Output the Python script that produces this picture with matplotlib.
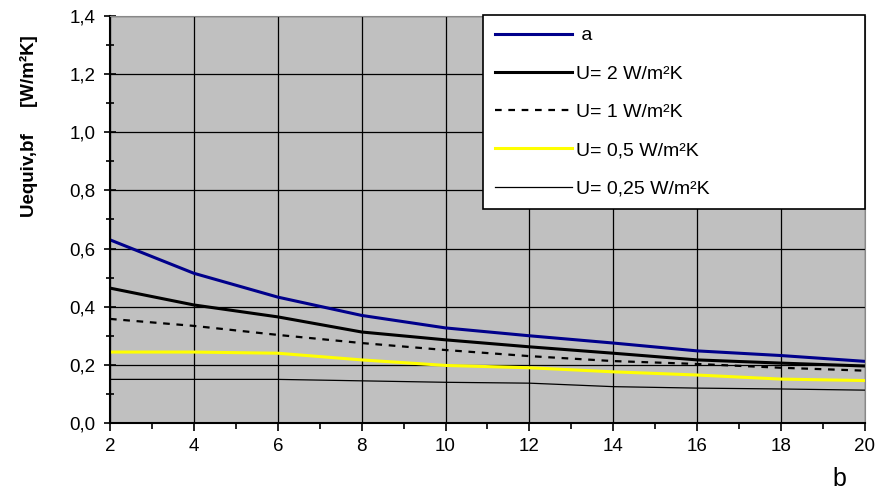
import numpy as np
import matplotlib.pyplot as plt
from matplotlib.ticker import MultipleLocator, FuncFormatter

# values
b = [2, 4, 6, 8, 10, 12, 14, 16, 18, 20]
u_a = [0.63, 0.515, 0.433, 0.37, 0.327, 0.30, 0.275, 0.248, 0.232, 0.212]
u_2 = [0.464, 0.406, 0.365, 0.313, 0.286, 0.262, 0.24, 0.217, 0.206, 0.196]
u_1 = [0.358, 0.334, 0.303, 0.275, 0.251, 0.23, 0.213, 0.203, 0.19, 0.18]
u_05 = [0.244, 0.244, 0.24, 0.217, 0.198, 0.19, 0.176, 0.165, 0.151, 0.146]
u_025 = [0.15, 0.15, 0.15, 0.145, 0.14, 0.137, 0.125, 0.12, 0.117, 0.113]

plt.rcParams['font.family'] = ['Liberation Sans', 'DejaVu Sans']

fig = plt.figure(figsize=(8.77, 5.01), dpi=100)
ax = fig.add_axes([0.1254, 0.1557, 0.8609, 0.8124])
ax.set_facecolor('#c0c0c0')

ax.plot(b, u_a, color='#00008b', linewidth=2.2, label=' a')
ax.plot(b, u_2, color='black', linewidth=2.2, label='U= 2 W/m²K')
ax.plot(b, u_1, color='black', linewidth=1.6, linestyle=(0, (3, 3)), label='U= 1 W/m²K')
ax.plot(b, u_05, color='#ffff00', linewidth=2.2, label='U= 0,5 W/m²K')
ax.plot(b, u_025, color='black', linewidth=0.9, label='U= 0,25 W/m²K')

ax.set_xlim(2, 20)
ax.set_ylim(0, 1.4)
ax.xaxis.set_major_locator(MultipleLocator(2))
ax.xaxis.set_minor_locator(MultipleLocator(1))
ax.yaxis.set_major_locator(MultipleLocator(0.2))
ax.yaxis.set_minor_locator(MultipleLocator(0.1))
ax.yaxis.set_major_formatter(FuncFormatter(lambda v, p: f'{v:.1f}'.replace('.', ',')))

ax.grid(True, which='major', color='black', linewidth=0.9)
ax.set_axisbelow(True)
ax.tick_params(axis='x', which='both', direction='out', labelsize=13.5, pad=5)
ax.tick_params(axis='x', which='major', length=6, width=1.2)
ax.tick_params(axis='x', which='minor', length=4, width=1.2)
ax.tick_params(axis='y', which='both', direction='inout', labelsize=13.5, pad=6)
ax.tick_params(axis='y', which='major', length=9, width=1.2)
ax.tick_params(axis='y', which='minor', length=6, width=1.2)

for side in ['left', 'bottom']:
    ax.spines[side].set_linewidth(1.5)
    ax.spines[side].set_color('black')
for side in ['top', 'right']:
    ax.spines[side].set_color('#888888')
    ax.spines[side].set_linewidth(0.8)

ax.set_ylabel('Uequiv,bf     [W/m²K]', fontsize=13.5, fontweight='bold')
ax.yaxis.set_label_coords(-0.095, 0.73)
fig.text(0.957, 0.03, 'b', fontsize=18, ha='center')

leg = ax.legend(loc='upper left', bbox_to_anchor=(0.494, 1.002, 0.506, 0), mode='expand',
                fontsize=14, frameon=True, fancybox=False, framealpha=1, edgecolor='black',
                handlelength=4.0, handletextpad=0.2, labelspacing=1.06,
                borderpad=0.6, borderaxespad=0)
leg.get_frame().set_linewidth(1.2)

plt.savefig('out.png', dpi=100)
